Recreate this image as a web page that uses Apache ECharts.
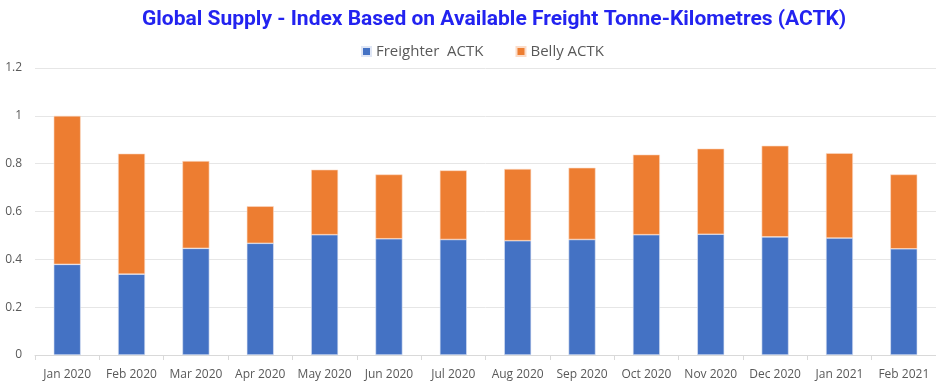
<!DOCTYPE html>
<html>
<head>
<meta charset="utf-8">
<script src="https://cdn.jsdelivr.net/npm/echarts@6/dist/echarts.min.js"></script>
<style>html,body{margin:0;padding:0;background:#fff}#c{width:936px;height:382px}</style>
</head>
<body>
<div id="c"></div>
<script>
const categories = ['Jan 2020','Feb 2020','Mar 2020','Apr 2020','May 2020','Jun 2020','Jul 2020','Aug 2020','Sep 2020','Oct 2020','Nov 2020','Dec 2020','Jan 2021','Feb 2021'];
const freighter = [0.379, 0.338, 0.446, 0.467, 0.503, 0.486, 0.483, 0.478, 0.483, 0.503, 0.505, 0.494, 0.489, 0.444];
const belly = [0.621, 0.504, 0.365, 0.155, 0.272, 0.269, 0.289, 0.300, 0.300, 0.335, 0.358, 0.381, 0.355, 0.311];
const yTicks = [0, 0.2, 0.4, 0.6, 0.8, 1, 1.2];

const chart = echarts.init(document.getElementById('c'), null, {renderer: 'canvas'});
chart.setOption({
  animation: false,
  title: {
    text: 'Global Supply - Index Based on Available Freight Tonne-Kilometres (ACTK)',
    left: 137, top: 4,
    textStyle: {color: '#2323f0', fontFamily: 'Roboto', fontWeight: 'bold', fontSize: 21}
  },
  legend: {
    top: 39, left: 356, itemWidth: 9, itemHeight: 9, itemGap: 32,
    icon: 'rect',
    textStyle: {color: '#595959', fontFamily: 'Open Sans', fontSize: 15},
    data: ['Freighter  ACTK', 'Belly ACTK']
  },
  grid: {left: 35, right: 0, top: 68, bottom: 27},
  xAxis: {
    type: 'category', data: categories,
    axisLine: {lineStyle: {color: '#d9d9d9'}},
    axisTick: {show: true, lineStyle: {color: '#d9d9d9'}, length: 5},
    axisLabel: {color: '#595959', fontFamily: 'Open Sans', fontSize: 12, margin: 14, interval: 0}
  },
  yAxis: {
    type: 'value', min: 0, max: 1.2, interval: 0.2,
    axisLine: {show: false}, axisTick: {show: false},
    splitLine: {lineStyle: {color: '#e6e6e6', width: 1}},
    axisLabel: {color: '#595959', fontFamily: 'Open Sans', fontSize: 12, margin: 13,
      formatter: v => { const t = yTicks.find(x => Math.abs(x - v) < 1e-9); return t === undefined ? '' : String(+t.toFixed(1)); } }
  },
  series: [
    {name: 'Freighter  ACTK', type: 'bar', stack: 'a', data: freighter, barWidth: 27,
     itemStyle: {color: '#4472c4', borderColor: '#dfe6f5', borderWidth: 0.6}},
    {name: 'Belly ACTK', type: 'bar', stack: 'a', data: belly, barWidth: 27,
     itemStyle: {color: '#ed7d31', borderColor: '#fbdcc8', borderWidth: 0.6}}
  ]
});
</script>
</body>
</html>
